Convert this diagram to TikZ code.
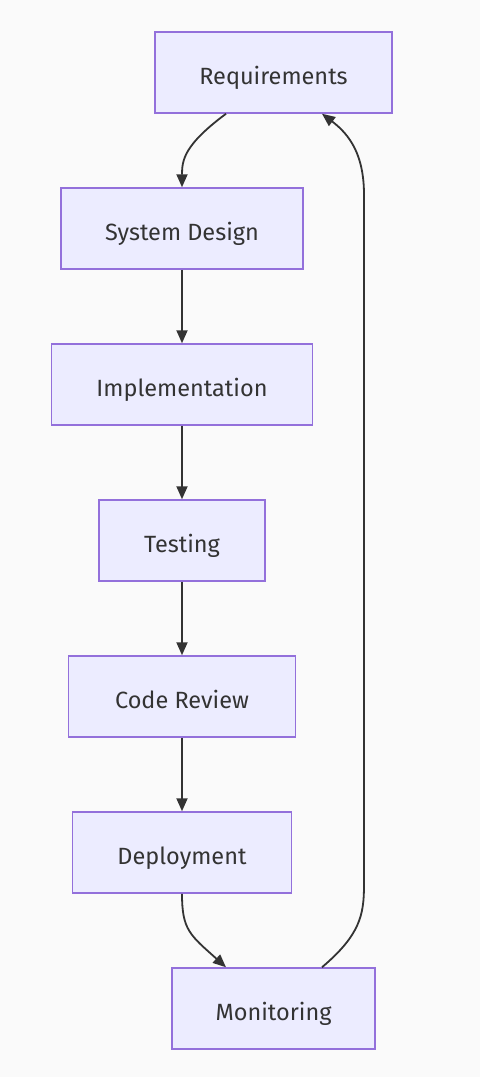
\documentclass[tikz,border=0pt]{standalone}
\usepackage{fontspec}
\setmainfont{Fira Sans}
\usepackage{tikz}
\usetikzlibrary{arrows.meta, positioning}
\definecolor{PaleBg}{RGB}{250, 250, 250}
\definecolor{NodeFill}{RGB}{236, 236, 255}
\definecolor{NodeEdge}{RGB}{147, 112, 219}
\definecolor{InkGrey}{RGB}{51, 51, 51}

\begin{document}
\begin{tikzpicture}[
    x=1pt, y=-1pt,
    stage/.style={rectangle, minimum height=81pt, inner sep=0pt, text height=26pt, text depth=3pt, draw=NodeEdge, line width=1.5pt, fill=NodeFill, text=InkGrey, font=\fontsize{23.5}{28}\selectfont},
    flow/.style={draw=InkGrey, line width=1.8pt, -{Triangle[length=13pt, width=11pt]}}
]

% Canvas
\fill[PaleBg] (0,0) rectangle (480,1077);
\useasboundingbox (0,0) rectangle (480,1077);

% Stages (centres in pixel units)
\node[stage, minimum width=237pt] (req) at (273.5, 72.5) {Requirements};
\node[stage, minimum width=242pt] (design) at (182, 228.5) {System Design};
\node[stage, minimum width=261pt] (impl) at (182, 384.5) {Implementation};
\node[stage, minimum width=166pt] (test) at (182, 540.5) {Testing};
\node[stage, minimum width=227pt] (review) at (182, 696.5) {Code Review};
\node[stage, minimum width=219pt] (deploy) at (182, 852.5) {Deployment};
\node[stage, minimum width=203pt] (monitor) at (273.5, 1008.5) {Monitoring};

% Straight steps
\draw[flow] (design) -- (impl);
\draw[flow] (impl) -- (test);
\draw[flow] (test) -- (review);
\draw[flow] (review) -- (deploy);

% Curved steps
\draw[flow] ([xshift=-47.5pt]req.south) .. controls (184, 145) and (182, 160) .. (design.north);
\draw[flow] (deploy.south) .. controls (182, 930) and (190, 935) .. ([xshift=-47.5pt]monitor.north);

% Feedback loop
\coordinate (loopLow) at (364, 885);
\coordinate (loopHigh) at (364, 195);
\draw[flow] ([xshift=48.5pt]monitor.north) .. controls (360, 935) and (364, 915) .. (loopLow)
    -- (loopHigh) .. controls (364, 155) and (350, 135) .. ([xshift=48.5pt]req.south);

\end{tikzpicture}
\end{document}
